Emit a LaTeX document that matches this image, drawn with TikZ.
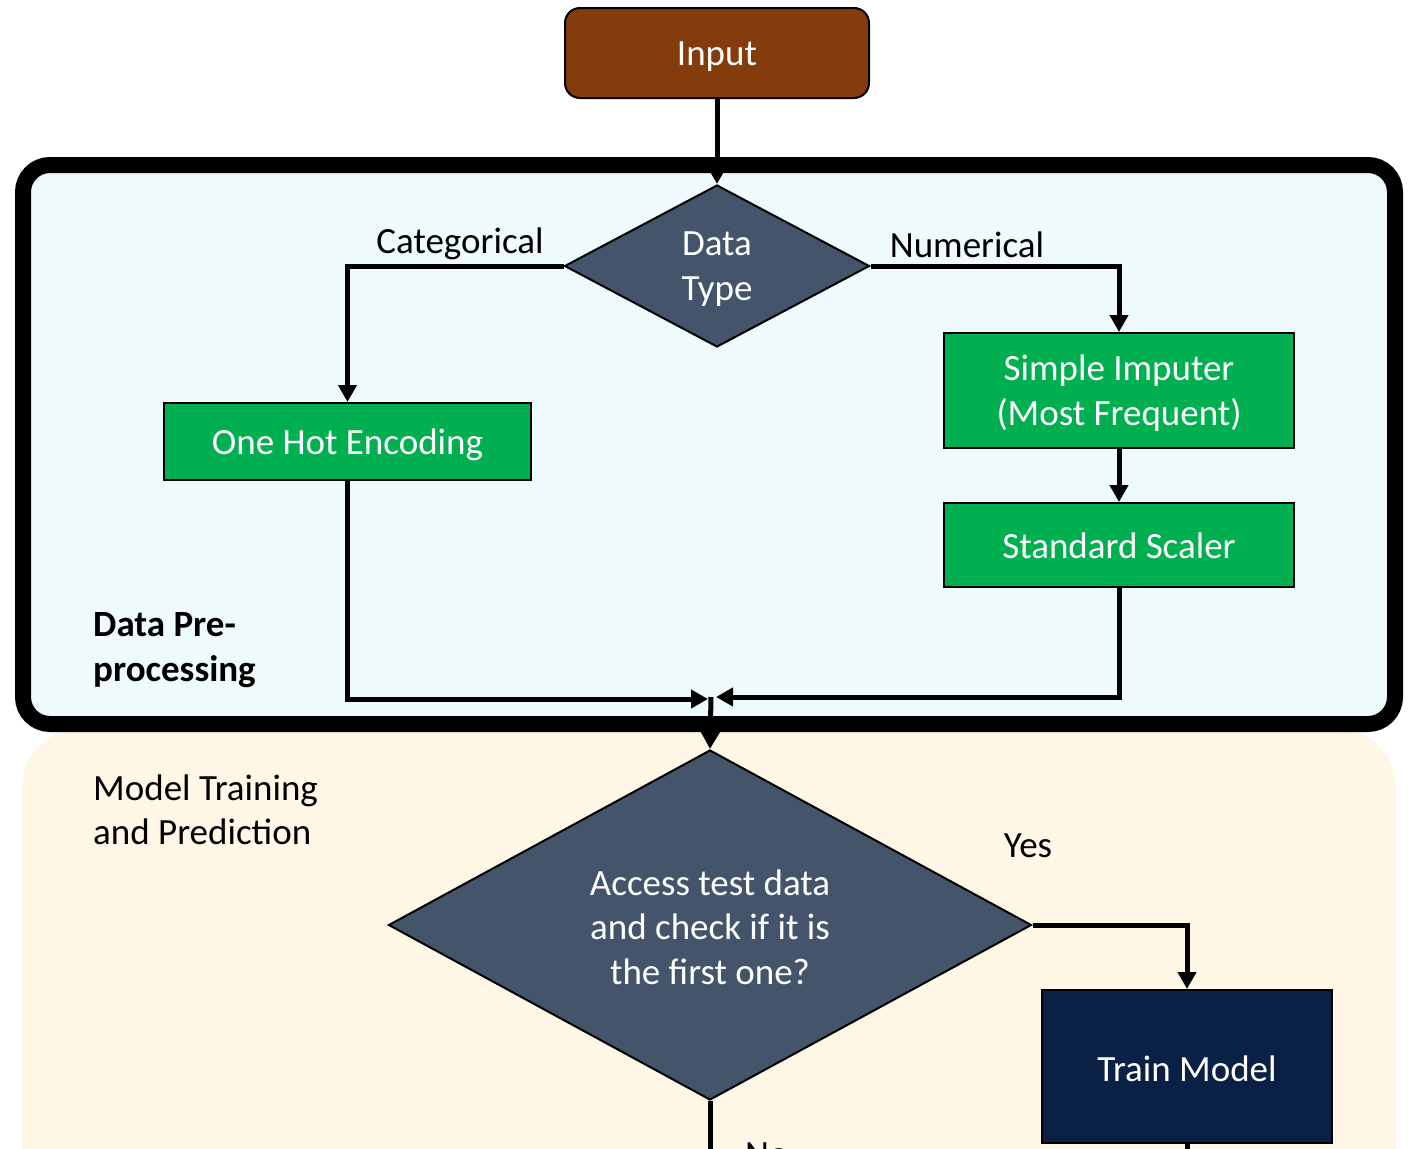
\documentclass[tikz,border=0pt]{standalone}
\usepackage{fontspec}
\setmainfont{Carlito}
\usetikzlibrary{arrows.meta,shapes.geometric}
\definecolor{brownbox}{HTML}{843C0C}
\definecolor{slatebox}{HTML}{44546A}
\definecolor{greenbox}{HTML}{00B050}
\definecolor{navybox}{HTML}{0B2045}
\definecolor{cyanbg}{HTML}{EFFAFC}
\definecolor{beigebg}{HTML}{FFF7E5}
\tikzset{
  txt/.style={font=\fontsize{37}{45}\selectfont, inner sep=0pt},
  intxt/.style={txt, text=white, align=center},
  procbox/.style={draw=black, line width=2pt, fill=greenbox, inner sep=0pt},
  decision/.style={diamond, draw=black, line width=2pt, fill=slatebox, inner sep=0pt},
  arr/.style={line width=5pt, -{Triangle[length=17pt,width=18pt]}},
  conn/.style={line width=5pt},
}
\begin{document}
\begin{tikzpicture}[x=1pt,y=-1pt]
\useasboundingbox (0,0) rectangle (1417,1149);
\clip (0,0) rectangle (1417,1149);
% backgrounds
\fill[beigebg, rounded corners=60pt] (22,1300) -- (22,728) -- (1396,728) -- (1396,1300) -- cycle;
\draw[line width=16pt, fill=cyanbg, rounded corners=27pt] (23,165) rectangle (1395,724);

% shapes
\node[draw=black, line width=2pt, fill=brownbox, rounded corners=15pt,
      minimum width=304pt, minimum height=90pt, inner sep=0pt] (input) at (717,53) {};
\node[decision, minimum width=305pt, minimum height=162pt] (dt) at (717,266) {};
\node[procbox, minimum width=367pt, minimum height=77pt] (ohe) at (347.5,441.5) {};
\node[procbox, minimum width=350pt, minimum height=115pt] (imp) at (1119,390.5) {};
\node[procbox, minimum width=350pt, minimum height=84pt] (ss) at (1119,545) {};
\node[decision, shape aspect=1.84, minimum width=643pt, minimum height=350pt] (acc) at (710,925) {};
\node[draw=black, line width=2pt, fill=navybox, inner sep=0pt,
      minimum width=290pt, minimum height=153pt] (train) at (1187,1066.5) {};

% texts inside shapes
\node[intxt, yshift=-4pt] (inputt) at (input) {Input};
\node[intxt, yshift=-3pt] (dtt) at (dt) {Data\\Type};
\node[intxt, yshift=-3pt] (ohet) at (ohe) {One Hot Encoding};
\node[intxt, yshift=-3pt] (impt) at (imp) {Simple Imputer\\(Most Frequent)};
\node[intxt, yshift=-1pt] (sst) at (ss) {Standard Scaler};
\node[intxt, yshift=-2pt, font=\fontsize{37}{44.5}\selectfont] (acct) at (acc) {Access test data\\and check if it is\\the first one?};
\node[intxt, yshift=-2pt] (traint) at (train) {Train Model};

% labels
\node[txt] (lcat) at (460,244) {Categorical};
\node[txt] (lnum) at (967,245) {Numerical};
\node[txt, anchor=west, align=left, font=\fontsize{37}{45}\selectfont\bfseries] (lpre) at (93,650) {Data Pre-\\processing};
\node[txt, anchor=west, align=left, font=\fontsize{37}{44}\selectfont] (lmod) at (93,810) {Model Training\\and Prediction};
\node[txt] (lyes) at (1028,846) {Yes};
\node[txt, anchor=north west] (lno) at (745,1143) {No};

% merge points
\coordinate (mL) at (708,699);
\coordinate (mR) at (716,697);
\coordinate (mC) at (711,697);

% connectors
\draw[arr] (input.south) -- (dt.north);
\draw[arr] (dt.west) -| (ohe.north);
\draw[arr] (dt.east) -| (imp.north);
\draw[arr] (imp.south) -- (ss.north);
\draw[arr] (ohe.south) |- (mL);
\draw[arr] (ss.south) |- (mR);
\draw[arr] (mC) -- (acc.north);
\draw[arr] (acc.east) -| (train.north);
\draw[conn] (acc.south) -- ++(0,80);
\draw[conn] (train.south) -- ++(0,40);
\end{tikzpicture}
\end{document}
